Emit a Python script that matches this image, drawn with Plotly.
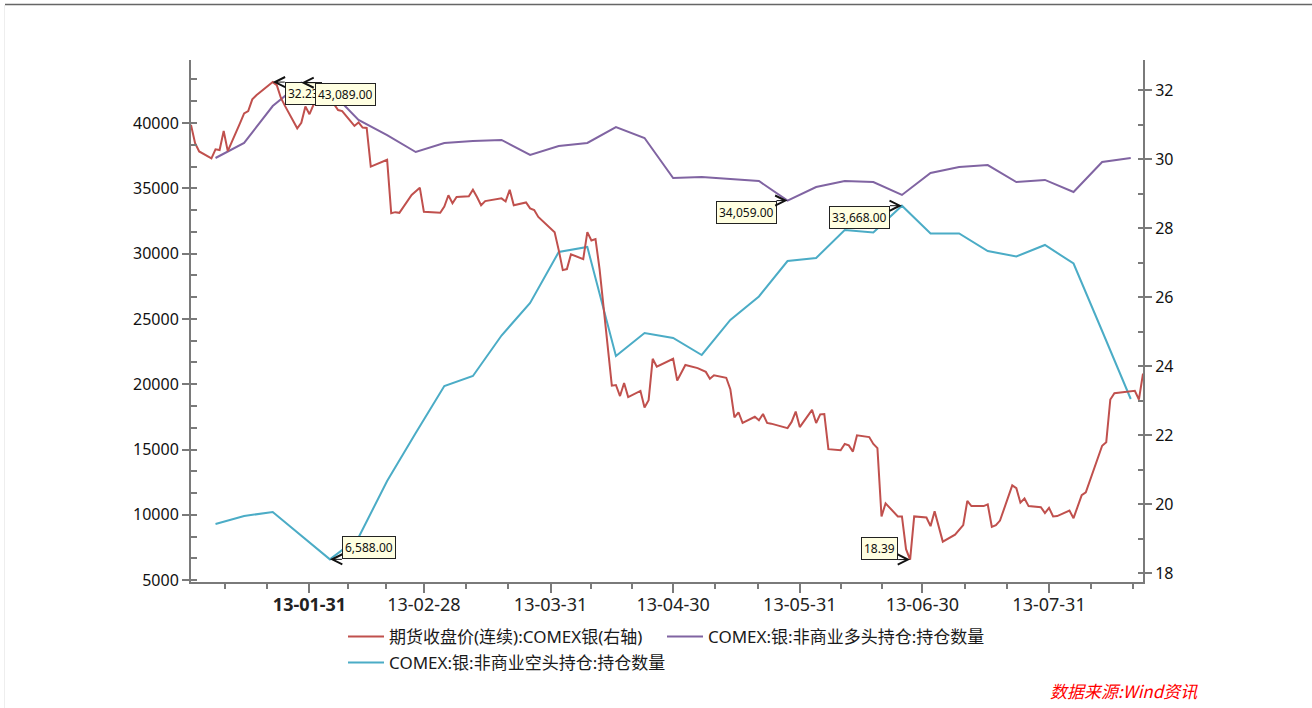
import plotly.graph_objects as go

# ---------------- data ----------------
price_dates = [
    "2013-01-02", "2013-01-03", "2013-01-04", "2013-01-07", "2013-01-08", "2013-01-09", "2013-01-10", "2013-01-11",
    "2013-01-14", "2013-01-15", "2013-01-16", "2013-01-17", "2013-01-18", "2013-01-22", "2013-01-23", "2013-01-24",
    "2013-01-25", "2013-01-28", "2013-01-29", "2013-01-30", "2013-01-31", "2013-02-01", "2013-02-04", "2013-02-05",
    "2013-02-06", "2013-02-07", "2013-02-08", "2013-02-11", "2013-02-12", "2013-02-13", "2013-02-14", "2013-02-15",
    "2013-02-19", "2013-02-20", "2013-02-21", "2013-02-22", "2013-02-25", "2013-02-26", "2013-02-27", "2013-02-28",
    "2013-03-01", "2013-03-04", "2013-03-05", "2013-03-06", "2013-03-07", "2013-03-08", "2013-03-11", "2013-03-12",
    "2013-03-13", "2013-03-14", "2013-03-15", "2013-03-18", "2013-03-19", "2013-03-20", "2013-03-21", "2013-03-22",
    "2013-03-25", "2013-03-26", "2013-03-27", "2013-03-28", "2013-04-01", "2013-04-02", "2013-04-03", "2013-04-04",
    "2013-04-05", "2013-04-08", "2013-04-09", "2013-04-10", "2013-04-11", "2013-04-12", "2013-04-15", "2013-04-16",
    "2013-04-17", "2013-04-18", "2013-04-19", "2013-04-22", "2013-04-23", "2013-04-24", "2013-04-25", "2013-04-26",
    "2013-04-29", "2013-04-30", "2013-05-01", "2013-05-02", "2013-05-03", "2013-05-06", "2013-05-07", "2013-05-08",
    "2013-05-09", "2013-05-10", "2013-05-13", "2013-05-14", "2013-05-15", "2013-05-16", "2013-05-17", "2013-05-20",
    "2013-05-21", "2013-05-22", "2013-05-23", "2013-05-24", "2013-05-28", "2013-05-29", "2013-05-30", "2013-05-31",
    "2013-06-03", "2013-06-04", "2013-06-05", "2013-06-06", "2013-06-07", "2013-06-10", "2013-06-11", "2013-06-12",
    "2013-06-13", "2013-06-14", "2013-06-17", "2013-06-18", "2013-06-19", "2013-06-20", "2013-06-21", "2013-06-24",
    "2013-06-25", "2013-06-26", "2013-06-27", "2013-06-28", "2013-07-01", "2013-07-02", "2013-07-03", "2013-07-05",
    "2013-07-08", "2013-07-09", "2013-07-10", "2013-07-11", "2013-07-12", "2013-07-15", "2013-07-16", "2013-07-17",
    "2013-07-18", "2013-07-19", "2013-07-22", "2013-07-23", "2013-07-24", "2013-07-25", "2013-07-26", "2013-07-29",
    "2013-07-30", "2013-07-31", "2013-08-01", "2013-08-02", "2013-08-05", "2013-08-06", "2013-08-07", "2013-08-08",
    "2013-08-09", "2013-08-12", "2013-08-13", "2013-08-14", "2013-08-15", "2013-08-16", "2013-08-19", "2013-08-20",
    "2013-08-21", "2013-08-22", "2013-08-23",
]
price_values = [
    30.99, 30.46, 30.22, 30.02, 30.28, 30.26, 30.81, 30.23,
    31.04, 31.32, 31.39, 31.73, 31.85, 32.23, 32.14, 31.77,
    31.54, 30.89, 31.05, 31.52, 31.30, 31.58, 31.66, 31.69,
    31.59, 31.42, 31.39, 30.96, 31.06, 30.91, 30.90, 29.78,
    29.98, 28.43, 28.46, 28.44, 28.96, 29.07, 29.17, 28.47,
    28.46, 28.44, 28.62, 28.95, 28.72, 28.90, 28.92, 29.11,
    28.90, 28.66, 28.78, 28.83, 28.86, 28.77, 29.11, 28.66,
    28.74, 28.57, 28.52, 28.32, 27.88, 27.36, 26.78, 26.81,
    27.24, 27.10, 27.88, 27.64, 27.68, 26.81, 23.43, 23.45,
    23.13, 23.51, 23.10, 23.28, 22.80, 23.01, 24.21, 23.98,
    24.14, 24.21, 23.58, 23.83, 24.03, 23.94, 23.88, 23.83,
    23.63, 23.73, 23.66, 23.33, 22.51, 22.66, 22.35, 22.53,
    22.43, 22.61, 22.35, 22.33, 22.20, 22.38, 22.68, 22.23,
    22.73, 22.35, 22.60, 22.61, 21.59, 21.56, 21.74, 21.70,
    21.52, 21.99, 21.94, 21.74, 21.62, 19.64, 20.02, 19.64,
    19.64, 18.69, 18.39, 19.64, 19.61, 19.36, 19.79, 18.91,
    19.11, 19.24, 19.39, 20.09, 19.94, 19.94, 19.99, 19.34,
    19.39, 19.52, 20.54, 20.46, 20.04, 20.16, 19.94, 19.91,
    19.74, 19.89, 19.64, 19.65, 19.81, 19.59, 19.91, 20.26,
    20.34, 21.39, 21.69, 21.79, 23.03, 23.21, 23.25, 23.26,
    23.28, 23.03, 23.78,
]

week_dates = [
    "2013-01-08", "2013-01-15", "2013-01-22", "2013-01-29", "2013-02-05", "2013-02-12", "2013-02-19", "2013-02-26",
    "2013-03-05", "2013-03-12", "2013-03-19", "2013-03-26", "2013-04-02", "2013-04-09", "2013-04-16", "2013-04-23",
    "2013-04-30", "2013-05-07", "2013-05-14", "2013-05-21", "2013-05-28", "2013-06-04", "2013-06-11", "2013-06-18",
    "2013-06-25", "2013-07-02", "2013-07-09", "2013-07-16", "2013-07-23", "2013-07-30", "2013-08-06", "2013-08-13",
    "2013-08-20",
]
long_positions = [
    37320, 38470, 41300, 43089, 42490, 40230, 39080, 37780,
    38470, 38620, 38700, 37550, 38240, 38470, 39690, 38850,
    35790, 35870, 35710, 35560, 34059, 35100, 35560, 35480,
    34490, 36170, 36630, 36780, 35480, 35640, 34720, 37010,
    37320,
]
short_positions = [
    9296, 9908, 10214, 8376, 6588, 8261, 12588, 16263,
    19862, 20628, 23729, 26217, 30122, 30505, 22159, 23920,
    23537, 22236, 24916, 26716, 29433, 29663, 31807, 31615,
    33668, 31539, 31539, 30199, 29778, 30659, 29242, 24074,
    18867,
]

series_names = [
    "期货收盘价(连续):COMEX银(右轴)",
    "COMEX:银:非商业多头持仓:持仓数量",
    "COMEX:银:非商业空头持仓:持仓数量",
]

month_ticks = ["2013-01-31", "2013-02-28", "2013-03-31", "2013-04-30",
               "2013-05-31", "2013-06-30", "2013-07-31"]
month_labels = ["<b>13-01-31</b>", "13-02-28", "13-03-31", "13-04-30",
                "13-05-31", "13-06-30", "13-07-31"]
minor_ticks = ["2013-01-10 08:00", "2013-01-20 16:00", "2013-02-09 08:00", "2013-02-18 16:00",
               "2013-03-10 08:00", "2013-03-20 16:00", "2013-04-10", "2013-04-20",
               "2013-05-10 08:00", "2013-05-20 16:00", "2013-06-10", "2013-06-20",
               "2013-07-10 08:00", "2013-07-20 16:00", "2013-08-10 08:00", "2013-08-20 16:00"]

RED = "#C0504D"
PURPLE = "#8064A2"
CYAN = "#4BACC6"
AXIS = "#7a7a7a"
FONT = "Noto Sans, Noto Sans CJK SC, sans-serif"

# ---------------- figure ----------------
fig = go.Figure()
fig.add_trace(go.Scatter(x=price_dates, y=price_values, name=series_names[0], mode="lines",
                         line=dict(color=RED, width=2), yaxis="y2", legend="legend"))
fig.add_trace(go.Scatter(x=week_dates, y=long_positions, name=series_names[1], mode="lines",
                         line=dict(color=PURPLE, width=2), legend="legend2"))
fig.add_trace(go.Scatter(x=week_dates, y=short_positions, name=series_names[2], mode="lines",
                         line=dict(color=CYAN, width=2), legend="legend3"))

L, R, T, B = 191, 169, 60, 126
W, H = 1312, 708
PW, PH = W - L - R, H - T - B


def px(xp):
    return (xp - L) / PW


def py(yp):
    return (H - B - yp) / PH


box = dict(bgcolor="#FFFFE1", bordercolor="#222222", borderwidth=1, borderpad=2,
           font=dict(family=FONT, size=12, color="#111111"),
           showarrow=True, arrowhead=5, arrowsize=2, arrowwidth=1, arrowcolor="#111111",
           standoff=0, ay=0)

ann = []
ann.append(dict(x=price_dates[price_values.index(max(price_values))], y=max(price_values),
                xref="x", yref="y2", text=f"{max(price_values):.2f}",
                ax=12, xanchor="left", yanchor="top", **box))
ann.append(dict(x=week_dates[long_positions.index(max(long_positions))], y=max(long_positions),
                xref="x", yref="y", text=f"{max(long_positions):,.2f}",
                ax=14, xanchor="left", yanchor="top", **box))
ann.append(dict(x=week_dates[short_positions.index(min(short_positions))], y=min(short_positions),
                xref="x", yref="y", text=f"{min(short_positions):,.2f}",
                ax=12, xanchor="left", yanchor="bottom", **box))
ann.append(dict(x=week_dates[long_positions.index(min(long_positions))], y=min(long_positions),
                xref="x", yref="y", text=f"{min(long_positions):,.2f}",
                ax=-11, xanchor="right", yanchor="top", **box))
ann.append(dict(x=week_dates[short_positions.index(max(short_positions))], y=max(short_positions),
                xref="x", yref="y", text=f"{max(short_positions):,.2f}",
                ax=-12, xanchor="right", yanchor="top", **box))
ann.append(dict(x=price_dates[price_values.index(min(price_values))], y=min(price_values),
                xref="x", yref="y2", text=f"{min(price_values):.2f}",
                ax=-12, xanchor="right", yanchor="bottom", **box))
ann.append(dict(x=px(1048), y=py(690), xref="paper", yref="paper", showarrow=False,
                text="<i>数据来源:Wind资讯</i>", xanchor="left", yanchor="middle",
                font=dict(family="Noto Sans CJK SC, sans-serif", size=17, color="#FF0000")))

shapes = [
    dict(type="line", xref="paper", yref="paper", x0=px(5), x1=px(1312), y0=py(4.5), y1=py(4.5),
         line=dict(color="#666666", width=1.5)),
    dict(type="line", xref="paper", yref="paper", x0=px(4.5), x1=px(4.5), y0=py(5), y1=py(708),
         line=dict(color="#eeeeee", width=1)),
]

legend_common = dict(orientation="h", xanchor="left", yanchor="middle", bgcolor="rgba(0,0,0,0)",
                     font=dict(family=FONT, size=17, color="#1a1a1a"), itemwidth=36,
                     itemclick=False, itemdoubleclick=False)

fig.update_layout(
    width=W, height=H, autosize=False,
    margin=dict(l=L, r=R, t=T, b=B, pad=0),
    paper_bgcolor="white", plot_bgcolor="white",
    font=dict(family=FONT, size=16, color="#111111"),
    showlegend=True,
    legend=dict(x=px(343), y=py(637), **legend_common),
    legend2=dict(x=px(662), y=py(637), **legend_common),
    legend3=dict(x=px(343), y=py(663), **legend_common),
    xaxis=dict(type="date", range=["2013-01-02", "2013-08-23"],
               tickmode="array", tickvals=month_ticks, ticktext=month_labels,
               ticks="outside", ticklen=9, tickwidth=1.5, tickcolor=AXIS,
               ticklabelstandoff=-4,
               showline=True, linecolor=AXIS, linewidth=2, showgrid=False, zeroline=False,
               tickfont=dict(family=FONT, size=18, color="#222222"),
               minor=dict(tickmode="array", tickvals=minor_ticks, ticks="outside",
                          ticklen=5, tickwidth=1.5, tickcolor=AXIS, showgrid=False)),
    yaxis=dict(range=[4854, 44824], tick0=0, dtick=5000, tickformat="d",
               ticks="outside", ticklen=7, tickwidth=1.5, tickcolor=AXIS,
               showline=True, linecolor=AXIS, linewidth=2, showgrid=False, zeroline=False,
               tickfont=dict(family=FONT, size=16, color="#111111"),
               minor=dict(dtick=5000 / 3, tick0=0, ticks="inside", ticklen=6, tickwidth=1.5,
                          tickcolor=AXIS, showgrid=False)),
    yaxis2=dict(range=[17.74, 32.87], overlaying="y", side="right", anchor="x",
                tick0=0, dtick=2, ticks="outside", ticklen=7, tickwidth=1.5, tickcolor=AXIS,
                showline=True, linecolor=AXIS, linewidth=2, showgrid=False, zeroline=False,
                tickfont=dict(family=FONT, size=16, color="#111111"),
                minor=dict(dtick=1, tick0=0, ticks="inside", ticklen=5, tickwidth=1.5,
                           tickcolor=AXIS, showgrid=False)),
    annotations=ann,
    shapes=shapes,
)

fig.write_html("out.html", config={"displayModeBar": False},
               post_script="document.body.style.margin='0';document.body.style.overflow='hidden';")
